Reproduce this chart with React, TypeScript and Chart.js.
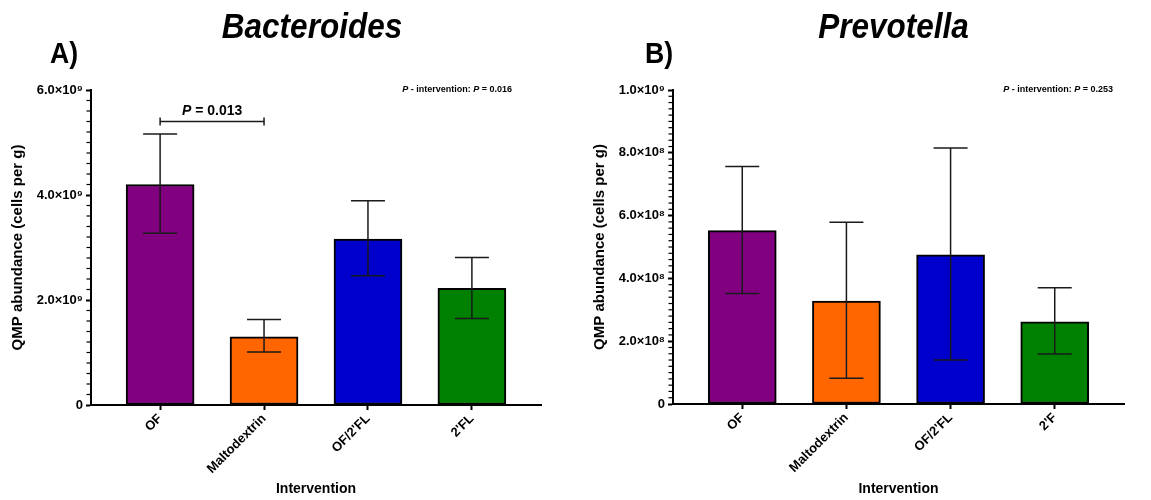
import React, { useEffect, useRef } from 'react';
import { Chart, registerables } from 'chart.js';

Chart.register(...registerables);

const FONT = '"Liberation Sans", Arial, Helvetica, sans-serif';

// ---- Panel A: Bacteroides ----
const bacteroidesCategories = ['OF', 'Maltodextrin', "OF/2'FL", "2'FL"];
const bacteroidesMean = [4.2e9, 1.3e9, 3.16e9, 2.22e9];
const bacteroidesUpper = [5.16e9, 1.63e9, 3.89e9, 2.81e9];
const bacteroidesLower = [3.27e9, 1.01e9, 2.46e9, 1.65e9];
const bacteroidesTicks = [0, 2e9, 4e9, 6e9];
const bacteroidesTickLabels = ['0', '2.0×10⁹', '4.0×10⁹', '6.0×10⁹'];
const bacteroidesMinorStep = 2e8;
const bacteroidesPairFrom = 0;
const bacteroidesPairTo = 1;
const bacteroidesPairLevel = 5.4e9;
const bacteroidesPairP = '0.013';
const bacteroidesOverallP = '0.016';

// ---- Panel B: Prevotella ----
const prevotellaCategories = ['OF', 'Maltodextrin', "OF/2'FL", "2'F"];
const prevotellaMean = [5.52e8, 3.28e8, 4.75e8, 2.62e8];
const prevotellaUpper = [7.56e8, 5.79e8, 8.15e8, 3.7e8];
const prevotellaLower = [3.52e8, 0.82e8, 1.4e8, 1.59e8];
const prevotellaTicks = [0, 2e8, 4e8, 6e8, 8e8, 1e9];
const prevotellaTickLabels = ['0', '2.0×10⁸', '4.0×10⁸', '6.0×10⁸', '8.0×10⁸', '1.0×10⁹'];
const prevotellaMinorStep = 2e7;
const prevotellaOverallP = '0.253';

const barColors = ['#800080', '#FF6600', '#0000CC', '#008000'];

type Part = { text: string; italic?: boolean };

function drawRich(ctx: CanvasRenderingContext2D, parts: Part[], x: number, y: number, size: number, align: 'left' | 'right' | 'center') {
  const fontFor = (p: Part) => `${p.italic ? 'italic ' : ''}bold ${size}px ${FONT}`;
  let total = 0;
  parts.forEach((p) => {
    ctx.font = fontFor(p);
    total += ctx.measureText(p.text).width;
  });
  let cx = align === 'left' ? x : align === 'right' ? x - total : x - total / 2;
  ctx.textAlign = 'left';
  ctx.textBaseline = 'alphabetic';
  parts.forEach((p) => {
    ctx.font = fontFor(p);
    ctx.fillText(p.text, cx, y);
    cx += ctx.measureText(p.text).width;
  });
}

interface PanelCfg {
  title: string;
  letter: string;
  letterX: number;
  titleShift: number;
  categories: string[];
  mean: number[];
  upper: number[];
  lower: number[];
  ticks: number[];
  tickLabels: string[];
  minorStep: number;
  overallP: string;
  overallPRight: number;
  pair?: { from: number; to: number; level: number; p: string };
  canvasLeft: number;
  canvasWidth: number;
  yAxisWidth: number;
  yTitlePad: number;
  areaRightPad: number;
  areaTop: number;
  xAxisHeight: number;
}

const panels: PanelCfg[] = [
  {
    title: 'Bacteroides',
    letter: 'A)',
    letterX: 50,
    titleShift: -4,
    categories: bacteroidesCategories,
    mean: bacteroidesMean,
    upper: bacteroidesUpper,
    lower: bacteroidesLower,
    ticks: bacteroidesTicks,
    tickLabels: bacteroidesTickLabels,
    minorStep: bacteroidesMinorStep,
    overallP: bacteroidesOverallP,
    overallPRight: 512,
    pair: { from: bacteroidesPairFrom, to: bacteroidesPairTo, level: bacteroidesPairLevel, p: bacteroidesPairP },
    canvasLeft: 0,
    canvasWidth: 575,
    yAxisWidth: 91,
    yTitlePad: 9,
    areaRightPad: 34,
    areaTop: 90,
    xAxisHeight: 95,
  },
  {
    title: 'Prevotella',
    letter: 'B)',
    letterX: 70,
    titleShift: -5,
    categories: prevotellaCategories,
    mean: prevotellaMean,
    upper: prevotellaUpper,
    lower: prevotellaLower,
    ticks: prevotellaTicks,
    tickLabels: prevotellaTickLabels,
    minorStep: prevotellaMinorStep,
    overallP: prevotellaOverallP,
    overallPRight: 538,
    canvasLeft: 575,
    canvasWidth: 576,
    yAxisWidth: 98,
    yTitlePad: 16,
    areaRightPad: 27,
    areaTop: 90,
    xAxisHeight: 96,
  },
];

function Panel({ cfg }: { cfg: PanelCfg }) {
  const ref = useRef<HTMLCanvasElement>(null);
  useEffect(() => {
    const canvas = ref.current;
    if (!canvas) return;
    const yMax = cfg.ticks[cfg.ticks.length - 1];
    const majorStep = cfg.ticks[1] - cfg.ticks[0];

    const decor = {
      id: 'decor_' + cfg.letter,
      afterDatasetsDraw(chart: any) {
        const { ctx } = chart;
        const xs = chart.scales.x;
        const ys = chart.scales.y;
        ctx.save();
        ctx.strokeStyle = '#1a1a1a';
        ctx.lineWidth = 1.5;
        cfg.mean.forEach((_m, i) => {
          const x = xs.getPixelForValue(i);
          const yU = ys.getPixelForValue(cfg.upper[i]);
          const yL = ys.getPixelForValue(cfg.lower[i]);
          ctx.beginPath();
          ctx.moveTo(x, yU);
          ctx.lineTo(x, yL);
          ctx.moveTo(x - 17, yU);
          ctx.lineTo(x + 17, yU);
          ctx.moveTo(x - 17, yL);
          ctx.lineTo(x + 17, yL);
          ctx.stroke();
        });
        ctx.restore();
      },
      afterDraw(chart: any) {
        const { ctx, chartArea } = chart;
        const xs = chart.scales.x;
        const ys = chart.scales.y;
        ctx.save();
        // minor ticks
        ctx.strokeStyle = '#000';
        ctx.lineWidth = 1.2;
        const n = Math.round(yMax / cfg.minorStep);
        const per = Math.round(majorStep / cfg.minorStep);
        for (let k = 1; k < n; k++) {
          if (k % per === 0) continue;
          const y = ys.getPixelForValue(k * cfg.minorStep);
          ctx.beginPath();
          ctx.moveTo(chartArea.left - 1, y);
          ctx.lineTo(chartArea.left - 4.5, y);
          ctx.stroke();
        }
        ctx.fillStyle = '#000';
        // title (slightly condensed like the original)
        ctx.save();
        ctx.font = `italic bold 35px ${FONT}`;
        ctx.textAlign = 'center';
        ctx.textBaseline = 'alphabetic';
        const tcx = (chartArea.left + chartArea.right) / 2 + cfg.titleShift;
        ctx.translate(tcx, 38);
        ctx.scale(0.9, 1);
        ctx.fillText(cfg.title, 0, 0);
        ctx.restore();
        // panel letter
        ctx.save();
        ctx.font = `bold 29px ${FONT}`;
        ctx.textAlign = 'left';
        ctx.translate(cfg.letterX, 63);
        ctx.scale(0.92, 1);
        ctx.fillText(cfg.letter, 0, 0);
        ctx.restore();
        // overall P
        drawRich(
          ctx,
          [{ text: 'P', italic: true }, { text: ' - intervention: ' }, { text: 'P', italic: true }, { text: ' = ' + cfg.overallP }],
          cfg.overallPRight,
          91.5,
          9,
          'right'
        );
        // pairwise bracket
        if (cfg.pair) {
          const x1 = xs.getPixelForValue(cfg.pair.from);
          const x2 = xs.getPixelForValue(cfg.pair.to);
          const y = ys.getPixelForValue(cfg.pair.level);
          ctx.strokeStyle = '#1a1a1a';
          ctx.lineWidth = 1.5;
          ctx.beginPath();
          ctx.moveTo(x1, y);
          ctx.lineTo(x2, y);
          ctx.moveTo(x1, y - 4);
          ctx.lineTo(x1, y + 4);
          ctx.moveTo(x2, y - 4);
          ctx.lineTo(x2, y + 4);
          ctx.stroke();
          drawRich(ctx, [{ text: 'P', italic: true }, { text: ' = ' + cfg.pair.p }], (x1 + x2) / 2, y - 7, 14, 'center');
        }
        ctx.restore();
      },
    };

    const chart = new Chart(canvas, {
      type: 'bar',
      data: {
        datasets: [
          {
            data: cfg.mean.map((v, i) => ({ x: i, y: v })),
            backgroundColor: barColors,
            borderColor: '#000',
            borderWidth: 2,
            borderSkipped: false,
            barThickness: 68,
          } as any,
        ],
      },
      options: {
        responsive: false,
        animation: false,
        devicePixelRatio: 1,
        layout: { padding: { left: 0, right: cfg.areaRightPad, top: cfg.areaTop, bottom: 0 } },
        plugins: {
          legend: { display: false },
          tooltip: { enabled: false },
          title: { display: false },
        },
        scales: {
          x: {
            type: 'linear',
            offset: false,
            min: -0.665,
            max: cfg.categories.length - 1 + 0.665,
            afterBuildTicks: (s: any) => {
              s.ticks = cfg.categories.map((_c, i) => ({ value: i }));
            },
            afterFit: (s: any) => {
              s.height = cfg.xAxisHeight;
            },
            ticks: {
              callback: (v: any) => cfg.categories[Math.round(Number(v))],
              minRotation: 45,
              maxRotation: 45,
              autoSkip: false,
              color: '#000',
              padding: 1,
              font: { family: FONT, size: 13, weight: 'bold' },
            },
            grid: {
              display: true,
              offset: false,
              drawOnChartArea: false,
              drawTicks: true,
              tickLength: 5,
              tickColor: '#000',
              tickWidth: 2,
            },
            border: { display: true, color: '#000', width: 2 },
            title: {
              display: true,
              text: 'Intervention',
              color: '#000',
              font: { family: FONT, size: 14, weight: 'bold' },
              padding: { top: 0, bottom: 2 },
            },
          } as any,
          y: {
            type: 'linear',
            min: 0,
            max: yMax,
            afterBuildTicks: (s: any) => {
              s.ticks = cfg.ticks.map((v) => ({ value: v }));
            },
            afterFit: (s: any) => {
              s.width = cfg.yAxisWidth;
            },
            ticks: {
              callback: (_v: any, i: number) => cfg.tickLabels[i],
              color: '#000',
              padding: 3,
              font: { family: FONT, size: 13, weight: 'bold' },
            },
            grid: {
              display: true,
              drawOnChartArea: false,
              drawTicks: true,
              tickLength: 5,
              tickColor: '#000',
              tickWidth: 2,
            },
            border: { display: true, color: '#000', width: 2 },
            title: {
              display: true,
              text: 'QMP abundance (cells per g)',
              color: '#000',
              font: { family: FONT, size: 15, weight: 'bold' },
              padding: { top: cfg.yTitlePad, bottom: 0 },
            },
          } as any,
        },
      },
      plugins: [decor],
    });
    return () => chart.destroy();
  }, [cfg]);

  return (
    <canvas
      ref={ref}
      width={cfg.canvasWidth}
      height={500}
      style={{ position: 'absolute', left: cfg.canvasLeft, top: 0, width: cfg.canvasWidth, height: 500 }}
    />
  );
}

export default function App() {
  return (
    <div style={{ position: 'absolute', left: 0, top: 0, width: 1151, height: 500, background: '#fff' }}>
      {panels.map((p) => (
        <Panel key={p.letter} cfg={p} />
      ))}
    </div>
  );
}
